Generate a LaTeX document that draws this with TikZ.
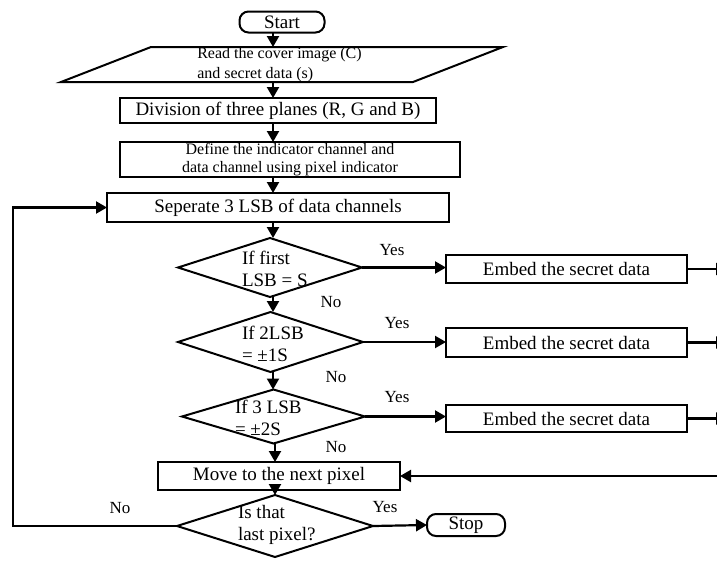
\documentclass[tikz,border=0pt]{standalone}
\usepackage{fontspec}
\setmainfont{Liberation Serif}
\usetikzlibrary{arrows.meta,shapes.geometric,calc}
\begin{document}
\begin{tikzpicture}[x=1pt,y=-1pt,
  every node/.style={inner sep=0pt, outer sep=0pt, font=\fontsize{19}{22}\selectfont},
  box/.style={draw, line width=2.4pt, rectangle, align=center},
  term/.style={draw, line width=2pt, rounded corners=9pt},
  dia/.style={draw, diamond, line width=2pt},
  dtext/.style={align=left, anchor=west, font=\fontsize{19}{22}\selectfont},
  small/.style={font=\fontsize{16}{18}\selectfont},
  arr/.style={line width=2.2pt, -{Triangle[length=11pt,width=12pt]}},
  lab/.style={font=\fontsize{17}{20}\selectfont}
]
\useasboundingbox (0,0) rectangle (717,571);
\clip (0,0) rectangle (717,571);
\coordinate (axis) at (273,0);
\coordinate (axisb) at (275,0);
\coordinate (redge) at (727,0);
\coordinate (loopx) at (13,0);

% main column
\node[term, minimum width=85pt, minimum height=21pt] (start) at (282,22) {Start};
\node[align=left, minimum height=35pt, font=\fontsize{16}{20}\selectfont] (read) at (279.5,64.5) {Read the cover image (C)\\and secret data (s)};
\draw[line width=2pt] ($(read.center)+(-128.5,-17.5)$) -- ($(read.center)+(223.5,-17.5)$)
  -- ($(read.center)+(133.5,17.5)$) -- ($(read.center)+(-218.5,17.5)$) -- cycle;
\node[box, minimum width=316pt, minimum height=25pt] (div) at (278,110.5) {Division of three planes (R, G and B)};
\node[box, small, minimum width=340pt, minimum height=35pt] (def) at (290,159.5) {Define the indicator channel and\\data channel using pixel indicator};
\node[box, minimum width=342pt, minimum height=29pt] (sep) at (278,207.5) {Seperate 3 LSB of data channels};

% decisions
\node[dia, minimum width=184pt, minimum height=59pt] (d1) at (270,267.5) {};
\node[dtext] (t1) at (242,269) {If first\\LSB = S};
\node[dia, minimum width=185pt, minimum height=60pt] (d2) at (270.5,342) {};
\node[dtext] (t2) at (242,344) {If 2LSB\\= ±1S};
\node[dia, minimum width=183pt, minimum height=54pt] (d3) at (273.5,416.5) {};
\node[dtext] (t3) at (235,418) {If 3 LSB\\= ±2S};
\node[box, minimum width=242pt, minimum height=28pt] (move) at (279,476) {Move to the next pixel};
\node[dia, minimum width=196pt, minimum height=62pt] (d4) at (275,526) {};
\node[dtext] (t4) at (238,525) {Is that\\last pixel?};
\node[term, minimum width=78pt, minimum height=22pt] (stop) at (466,525) {Stop};

% embed boxes
\node[box, minimum width=241pt, minimum height=28pt] (e1) at (566.5,269) {Embed the secret data};
\node[box, minimum width=241pt, minimum height=29pt] (e2) at (566.5,342.5) {Embed the secret data};
\node[box, minimum width=241pt, minimum height=27pt] (e3) at (566.5,418.5) {Embed the secret data};
\coordinate (rin) at (730,476);

% labels
\node[lab] (y1) at (392,250) {Yes};
\node[lab] (y2) at (397,323) {Yes};
\node[lab] (y3) at (397,397) {Yes};
\node[lab] (y4) at (385,507) {Yes};
\node[lab] (n1) at (331,302) {No};
\node[lab] (n2) at (336,377) {No};
\node[lab] (n3) at (336,447) {No};
\node[lab] (n4) at (120,508) {No};

% vertical arrows
\draw[arr] (start.south -| axis) -- (read.north -| axis);
\draw[arr] (read.south -| axis) -- (div.north -| axis);
\draw[arr] (div.south -| axis) -- (def.north -| axis);
\draw[arr] (def.south -| axis) -- (sep.north -| axis);
\draw[arr] (sep.south -| axis) -- (d1.north -| axis);
\draw[arr] (d1.south -| axis) -- (d2.north -| axis);
\draw[arr] (d2.south -| axis) -- (d3.north -| axis);
\draw[arr] (d3.south -| axisb) -- (move.north -| axisb);
\draw[arr] (move.south -| axisb) -- (d4.north -| axisb);

% yes branches
\draw[arr] (d1.east) -- (d1.east -| e1.west);
\draw[arr] (d2.east) -- (d2.east -| e2.west);
\draw[arr] (d3.east) -- (d3.east -| e3.west);
\draw[arr] (e1.east) -- (e1.east -| redge);
\draw[arr] (e2.east) -- (e2.east -| redge);
\draw[arr] (e3.east) -- (e3.east -| redge);
\draw[arr] (rin) -- (move.east);
\draw[arr] (d4.east) -- (stop.west);

% loop back
\draw[arr] (d4.west) -- (d4.west -| loopx) -- (sep.west -| loopx) -- (sep.west);
\end{tikzpicture}
\end{document}
